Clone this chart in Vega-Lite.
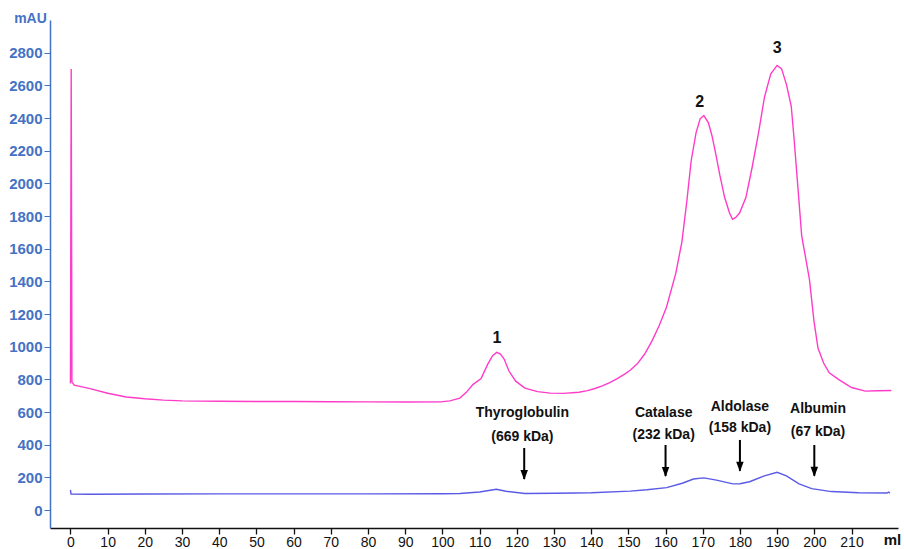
{
  "$schema": "https://vega.github.io/schema/vega-lite/v6.json",
  "width": 848,
  "height": 508,
  "autosize": {"type": "none"},
  "padding": {"left": 50, "top": 20, "right": 6, "bottom": 21},
  "background": "white",
  "config": {"view": {"stroke": null}, "font": "Liberation Sans"},
  "datasets": {
    "pink": [
      {"ml": 0, "mAU": 775}, {"ml": 0.2, "mAU": 2700}, {"ml": 0.4, "mAU": 785}, {"ml": 1, "mAU": 765},
      {"ml": 5, "mAU": 745}, {"ml": 10, "mAU": 715}, {"ml": 15, "mAU": 692}, {"ml": 20, "mAU": 681},
      {"ml": 25, "mAU": 673}, {"ml": 30, "mAU": 668}, {"ml": 40, "mAU": 666}, {"ml": 50, "mAU": 664},
      {"ml": 60, "mAU": 664}, {"ml": 70, "mAU": 663}, {"ml": 80, "mAU": 662}, {"ml": 90, "mAU": 661},
      {"ml": 99.5, "mAU": 662}, {"ml": 102, "mAU": 668}, {"ml": 104.7, "mAU": 685}, {"ml": 106.5, "mAU": 722},
      {"ml": 108.2, "mAU": 768}, {"ml": 110.4, "mAU": 805}, {"ml": 112.2, "mAU": 893}, {"ml": 113.5, "mAU": 945},
      {"ml": 114.6, "mAU": 965}, {"ml": 115.6, "mAU": 955}, {"ml": 116.6, "mAU": 924}, {"ml": 117.9, "mAU": 851},
      {"ml": 119.7, "mAU": 789}, {"ml": 122.2, "mAU": 746}, {"ml": 125.6, "mAU": 725}, {"ml": 129, "mAU": 716},
      {"ml": 132.6, "mAU": 714}, {"ml": 136.7, "mAU": 721}, {"ml": 139, "mAU": 731}, {"ml": 141, "mAU": 744},
      {"ml": 143, "mAU": 760}, {"ml": 145, "mAU": 780}, {"ml": 147, "mAU": 804}, {"ml": 149, "mAU": 832},
      {"ml": 150.5, "mAU": 856}, {"ml": 152.4, "mAU": 895},
      {"ml": 154.4, "mAU": 955}, {"ml": 156.4, "mAU": 1037}, {"ml": 158.3, "mAU": 1130}, {"ml": 160.25, "mAU": 1242},
      {"ml": 162.75, "mAU": 1449}, {"ml": 164.4, "mAU": 1642}, {"ml": 165.7, "mAU": 1886}, {"ml": 166.9, "mAU": 2140},
      {"ml": 168.2, "mAU": 2309}, {"ml": 169.3, "mAU": 2395}, {"ml": 170.3, "mAU": 2415}, {"ml": 171.5, "mAU": 2372},
      {"ml": 172.5, "mAU": 2290}, {"ml": 173.5, "mAU": 2180}, {"ml": 174.6, "mAU": 2050}, {"ml": 175.9, "mAU": 1913},
      {"ml": 177.2, "mAU": 1818}, {"ml": 178.0, "mAU": 1780}, {"ml": 178.8, "mAU": 1790}, {"ml": 179.9, "mAU": 1818},
      {"ml": 181.6, "mAU": 1913}, {"ml": 183.3, "mAU": 2100}, {"ml": 185.0, "mAU": 2309}, {"ml": 186.6, "mAU": 2528},
      {"ml": 188.3, "mAU": 2670}, {"ml": 190.0, "mAU": 2722}, {"ml": 191.2, "mAU": 2701}, {"ml": 192.5, "mAU": 2606},
      {"ml": 193.8, "mAU": 2472}, {"ml": 194.6, "mAU": 2261}, {"ml": 195.5, "mAU": 2000}, {"ml": 196.6, "mAU": 1680},
      {"ml": 197.4, "mAU": 1578}, {"ml": 198.7, "mAU": 1410}, {"ml": 199.9, "mAU": 1158}, {"ml": 201, "mAU": 990},
      {"ml": 202.5, "mAU": 900}, {"ml": 204, "mAU": 840}, {"ml": 206.5, "mAU": 800}, {"ml": 210, "mAU": 750},
      {"ml": 213.7, "mAU": 728}, {"ml": 217, "mAU": 730}, {"ml": 220.7, "mAU": 732}
    ],
    "blue": [
      {"ml": 0, "mAU": 123}, {"ml": 0.15, "mAU": 98}, {"ml": 5, "mAU": 97}, {"ml": 20, "mAU": 98},
      {"ml": 40, "mAU": 99}, {"ml": 60, "mAU": 99}, {"ml": 80, "mAU": 99}, {"ml": 100, "mAU": 100},
      {"ml": 104.7, "mAU": 101}, {"ml": 110, "mAU": 110}, {"ml": 114.5, "mAU": 127}, {"ml": 117.1, "mAU": 115},
      {"ml": 122.2, "mAU": 101}, {"ml": 130.8, "mAU": 103}, {"ml": 140, "mAU": 106}, {"ml": 150.5, "mAU": 116},
      {"ml": 155, "mAU": 124}, {"ml": 160.3, "mAU": 137}, {"ml": 164.5, "mAU": 164}, {"ml": 167.5, "mAU": 190},
      {"ml": 170.3, "mAU": 197}, {"ml": 173.7, "mAU": 183}, {"ml": 178.1, "mAU": 160}, {"ml": 180, "mAU": 161},
      {"ml": 182.6, "mAU": 173}, {"ml": 186.6, "mAU": 209}, {"ml": 190, "mAU": 231}, {"ml": 192.5, "mAU": 209},
      {"ml": 195.9, "mAU": 160}, {"ml": 199.3, "mAU": 131}, {"ml": 204.6, "mAU": 113}, {"ml": 211.9, "mAU": 106},
      {"ml": 219.5, "mAU": 104}, {"ml": 220, "mAU": 110}, {"ml": 220.3, "mAU": 102}
    ],
    "arrows": [
      {"ml": 122, "mAU": 380, "mAU2": 190},
      {"ml": 160, "mAU": 398, "mAU2": 208},
      {"ml": 180, "mAU": 429, "mAU2": 240},
      {"ml": 200, "mAU": 398, "mAU2": 210}
    ],
    "heads": [
      {"ml": 122, "mAU": 184},
      {"ml": 160, "mAU": 202},
      {"ml": 180, "mAU": 234},
      {"ml": 200, "mAU": 204}
    ],
    "labels": [
      {"ml": 121.5, "mAU": 594, "label": "Thyroglobulin"},
      {"ml": 121.5, "mAU": 447, "label": "(669 kDa)"},
      {"ml": 159.5, "mAU": 592, "label": "Catalase"},
      {"ml": 159.5, "mAU": 459, "label": "(232 kDa)"},
      {"ml": 180, "mAU": 632, "label": "Aldolase"},
      {"ml": 180, "mAU": 500, "label": "(158 kDa)"},
      {"ml": 201, "mAU": 616, "label": "Albumin"},
      {"ml": 201, "mAU": 479, "label": "(67 kDa)"}
    ],
    "peaks": [
      {"ml": 114.7, "mAU": 1053, "label": "1"},
      {"ml": 169.2, "mAU": 2498, "label": "2"},
      {"ml": 190, "mAU": 2828, "label": "3"}
    ]
  },
  "layer": [
    {
      "data": {"name": "pink"},
      "mark": {"type": "line", "color": "#FF3CC8", "strokeWidth": 1.4},
      "encoding": {
        "x": {
          "field": "ml", "type": "quantitative",
          "scale": {"domain": [-5.5, 222.5], "nice": false, "zero": false},
          "axis": {
            "values": [0, 10, 20, 30, 40, 50, 60, 70, 80, 90, 100, 110, 120, 130, 140, 150, 160, 170, 180, 190, 200, 210],
            "tickCount": 30, "format": "d", "labelOverlap": false,
            "title": "ml", "titleAngle": 0, "titleX": 842, "titleY": 11, "titleAlign": "center", "titleBaseline": "middle",
            "titleFontSize": 15, "titleFontWeight": "bold", "titleColor": "#111",
            "domainColor": "#111", "domainWidth": 1.5, "tickColor": "#111", "tickSize": 6, "tickWidth": 1.3,
            "labelFontSize": 14, "labelColor": "#111", "labelPadding": 1, "labelFlush": false, "grid": false
          }
        },
        "y": {
          "field": "mAU", "type": "quantitative",
          "scale": {"domain": [-110, 3000], "nice": false, "zero": false},
          "axis": {
            "values": [0, 200, 400, 600, 800, 1000, 1200, 1400, 1600, 1800, 2000, 2200, 2400, 2600, 2800],
            "tickCount": 20, "format": "d", "labelOverlap": false,
            "title": "mAU", "titleAngle": 0, "titleX": -20, "titleY": -2, "titleAlign": "center", "titleBaseline": "middle",
            "titleFontSize": 14, "titleFontWeight": "bold", "titleColor": "#4472C4",
            "domainColor": "#4472C4", "domainWidth": 1.5, "tickColor": "#4472C4", "tickSize": 6,
            "labelFontSize": 15, "labelFontWeight": "bold", "labelColor": "#4472C4", "labelPadding": 2, "grid": false
          }
        }
      }
    },
    {
      "data": {"name": "blue"},
      "mark": {"type": "line", "color": "#5A5AE6", "strokeWidth": 1.4},
      "encoding": {
        "x": {"field": "ml", "type": "quantitative"},
        "y": {"field": "mAU", "type": "quantitative"}
      }
    },
    {
      "data": {"name": "arrows"},
      "mark": {"type": "rule", "color": "#000", "strokeWidth": 2},
      "encoding": {
        "x": {"field": "ml", "type": "quantitative"},
        "y": {"field": "mAU", "type": "quantitative"},
        "y2": {"field": "mAU2"}
      }
    },
    {
      "data": {"name": "heads"},
      "mark": {"type": "point", "shape": "M0,1L-0.75,-1L0.75,-1Z", "size": 100, "filled": true, "color": "#000", "opacity": 1, "yOffset": -5},
      "encoding": {
        "x": {"field": "ml", "type": "quantitative"},
        "y": {"field": "mAU", "type": "quantitative"}
      }
    },
    {
      "data": {"name": "labels"},
      "mark": {"type": "text", "fontSize": 14, "fontWeight": "bold", "color": "#111", "align": "center", "baseline": "middle"},
      "encoding": {
        "x": {"field": "ml", "type": "quantitative"},
        "y": {"field": "mAU", "type": "quantitative"},
        "text": {"field": "label"}
      }
    },
    {
      "data": {"name": "peaks"},
      "mark": {"type": "text", "fontSize": 16, "fontWeight": "bold", "color": "#111", "align": "center", "baseline": "middle"},
      "encoding": {
        "x": {"field": "ml", "type": "quantitative"},
        "y": {"field": "mAU", "type": "quantitative"},
        "text": {"field": "label"}
      }
    }
  ]
}
